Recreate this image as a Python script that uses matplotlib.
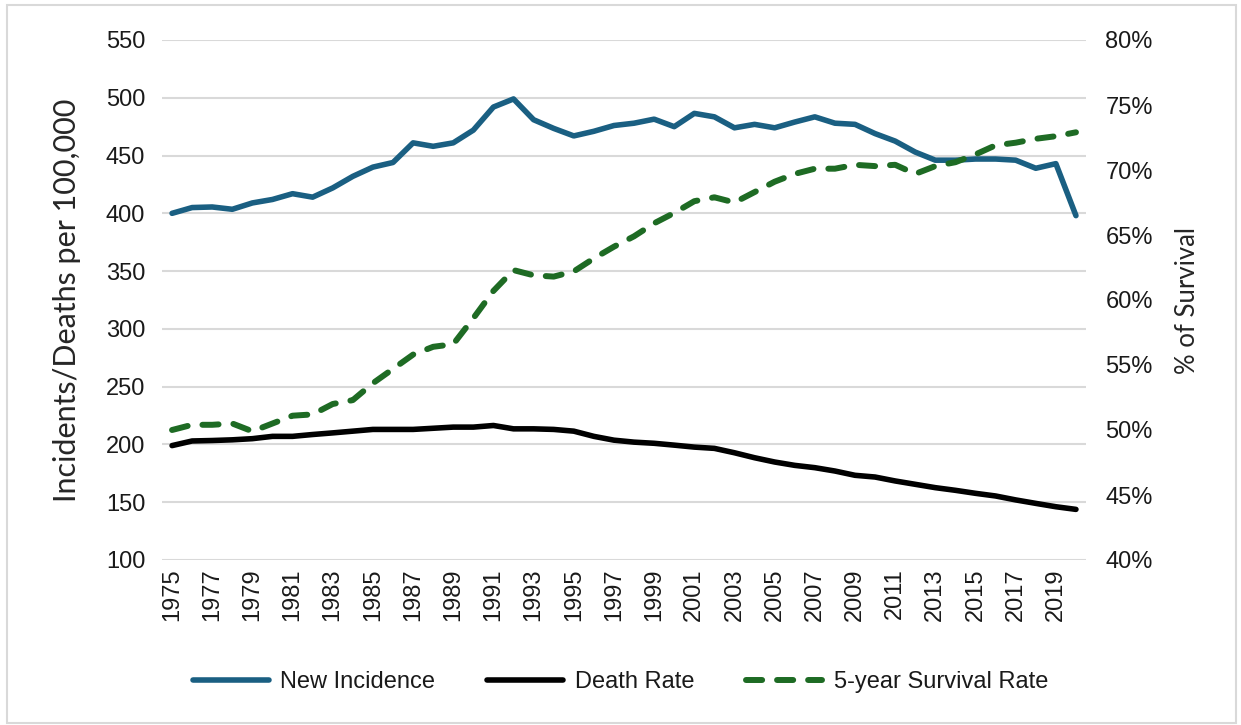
import matplotlib
matplotlib.use("Agg")
import matplotlib.pyplot as plt
from matplotlib.patches import Rectangle
from matplotlib.ticker import PercentFormatter

years = list(range(1975, 2021))

new_incidence = [400, 405, 405.5, 403.5, 409, 412, 417, 414, 422, 432,
                 440, 444, 461, 458, 461, 472, 492, 499, 481, 473.5,
                 467, 471, 476, 478, 481.5, 475, 486.5, 483.5, 474, 477,
                 474, 479, 483.5, 478, 477, 469, 462.5, 453, 446, 446,
                 447, 447, 446, 439, 443, 398]

death_rate = [199, 203, 203.4, 204, 205, 207, 207, 208.6, 210, 211.5,
              213, 213, 213, 214, 215, 215, 216.4, 213.5, 213.5, 213,
              211.5, 207, 203.7, 202, 201, 199.4, 197.7, 196.6, 192.8, 188.5,
              184.8, 181.9, 179.9, 177, 173.3, 171.8, 168.4, 165.5, 162.6, 160.3,
              157.7, 155.4, 152, 149, 146.1, 143.8]

survival_5yr = [50.0, 50.4, 50.4, 50.5, 49.9, 50.5, 51.1, 51.2, 52.0, 52.3,
                53.6, 54.7, 55.8, 56.4, 56.6, 58.6, 60.7, 62.3, 61.9, 61.8,
                62.2, 63.2, 64.1, 64.9, 65.9, 66.7, 67.6, 67.9, 67.5, 68.3,
                69.1, 69.7, 70.1, 70.1, 70.4, 70.3, 70.4, 69.7, 70.3, 70.6,
                71.2, 71.9, 72.1, 72.4, 72.6, 72.9]

W, H = 1241, 725
fig = plt.figure(figsize=(W / 100, H / 100), dpi=100)
fig.patch.set_facecolor("white")

tick_font = ["Liberation Sans", "DejaVu Sans"]
title_font = ["Lato", "DejaVu Sans"]
fs = 17

ax = fig.add_axes([162 / W, 1 - 560 / H, 924 / W, 520 / H])
ax2 = ax.twinx()

l1, = ax.plot(years, new_incidence, color="#1A5F82", lw=4.0,
              solid_capstyle="round", solid_joinstyle="round", label="New Incidence")
l2, = ax.plot(years, death_rate, color="black", lw=4.0,
              solid_capstyle="round", solid_joinstyle="round", label="Death Rate")
l3, = ax2.plot(years, [v / 100 for v in survival_5yr], color="#1E6B24", lw=4.3,
               linestyle=(0, (2.7, 2.5)), dash_capstyle="round",
               dash_joinstyle="round", label="5-year Survival Rate")

ax.set_xlim(1974.5, 2020.5)
ax.set_ylim(100, 550)
ax.set_yticks(range(100, 551, 50))
ax2.set_ylim(0.40, 0.80)
ax2.set_yticks([0.40, 0.45, 0.50, 0.55, 0.60, 0.65, 0.70, 0.75, 0.80])
ax2.yaxis.set_major_formatter(PercentFormatter(1.0, decimals=0))

ax.set_xticks(years[::2])
ax.set_xticklabels([str(y) for y in years[::2]], rotation=90)

ax.grid(axis="y", color="#D9D9D9", lw=1.5)
ax.set_axisbelow(True)
for a in (ax, ax2):
    for s in a.spines.values():
        s.set_visible(False)
    a.tick_params(length=0, labelsize=fs, labelcolor="#1A1A1A")
    for lab in a.get_xticklabels() + a.get_yticklabels():
        lab.set_family(tick_font)

ax.tick_params(axis="y", pad=12)
ax.tick_params(axis="x", pad=6)
ax2.tick_params(axis="y", pad=14)

ax.set_ylabel("Incidents/Deaths per 100,000", fontsize=22, family=title_font,
              color="#262626", labelpad=18)
ax2.set_ylabel("% of Survival", fontsize=18.5, family=title_font,
               color="#262626", labelpad=16)

leg = fig.legend(handles=[l1, l2, l3], loc="center", bbox_to_anchor=(0.5, 1 - 682 / H),
                 ncol=3, frameon=False, handlelength=3.2, columnspacing=2.2,
                 handletextpad=0.5, prop={"family": tick_font, "size": fs})
for t in leg.get_texts():
    t.set_color("#1A1A1A")

fig.patches.append(Rectangle((7 / W, 2 / H), 1229 / W, 718 / H, transform=fig.transFigure,
                             fill=False, edgecolor="#D9D9D9", lw=1.5))

fig.savefig("out.png", dpi=100)
